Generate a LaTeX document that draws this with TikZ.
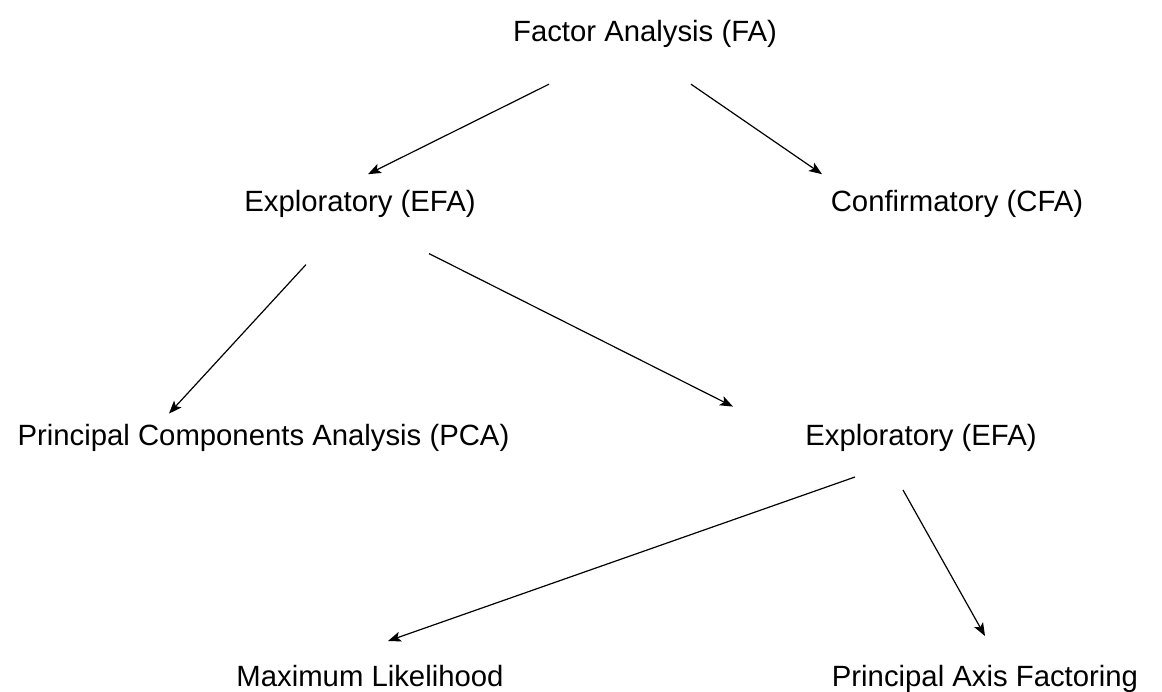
\documentclass[tikz,border=0pt]{standalone}
\usepackage{fontspec}
\setmainfont{Liberation Sans}
\usetikzlibrary{arrows.meta, positioning}
\tikzstyle{term} = [inner sep=0pt, text height=21pt, text depth=7pt, font=\fontsize{29.3}{35}\selectfont]
\tikzstyle{arrow} = [line width=1.2pt, -{Stealth[length=13pt, width=10pt, inset=3pt]}]

\begin{document}
\begin{tikzpicture}[x=1pt, y=-1pt]
	\useasboundingbox (0,0) rectangle (1162,692);
	\node (fa) [term] at (645,35) {Factor Analysis (FA)};
	\node (efa) [term, below = 141pt of fa, xshift=-285pt] {Exploratory (EFA)};
	\node (cfa) [term, below = 141pt of fa, xshift=312pt] {Confirmatory (CFA)};
	\node (pca) [term, below = 206pt of efa, xshift=-96.5pt]
		{Principal Components Analysis (PCA)};
	\node (efaTwo) [term, below = 206pt of efa, xshift=561pt] {Exploratory (EFA)};
	\node (ml) [term, below = 212pt of efaTwo, xshift=-551pt] {Maximum Likelihood};
	\node (paf) [term, below = 212pt of efaTwo, xshift=64pt] {Principal Axis Factoring};
	\draw [arrow] ([xshift=-96pt, yshift=-35pt]fa.south) -- ([xshift=8pt, yshift=16pt]efa.north);
	\draw [arrow] ([xshift=46pt, yshift=-35pt]fa.south) -- ([xshift=-135pt, yshift=16pt]cfa.north);
	\draw [arrow] ([xshift=-54pt, yshift=-46pt]efa.south) -- ([xshift=-94.5pt, yshift=11pt]pca.north);
	\draw [arrow] ([xshift=69pt, yshift=-35pt]efa.south) -- ([xshift=-188pt, yshift=18pt]efaTwo.north);
	\draw [arrow] ([xshift=-66pt, yshift=-24pt]efaTwo.south) -- ([xshift=18pt, yshift=24pt]ml.north);
	\draw [arrow] ([xshift=-18pt, yshift=-37pt]efaTwo.south) -- ([xshift=0pt, yshift=29pt]paf.north);
\end{tikzpicture}
\end{document}
